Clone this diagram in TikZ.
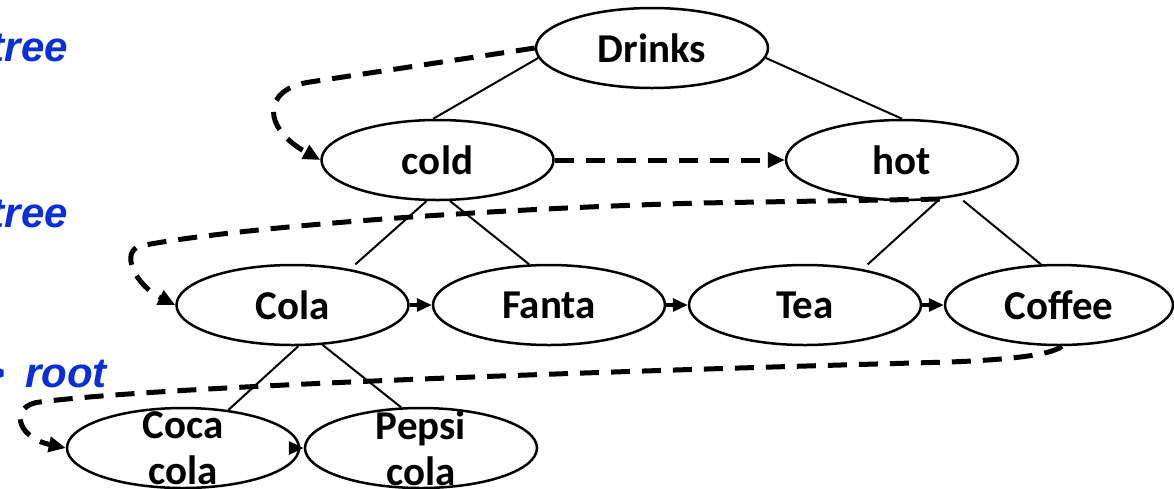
\documentclass[tikz,border=0pt]{standalone}
\usepackage{fontspec}
\setmainfont{Carlito}
\newfontfamily\notefont{Liberation Sans}
\usetikzlibrary{arrows.meta,shapes.geometric}
\definecolor{noteblue}{RGB}{8,48,214}

\begin{document}
\begin{tikzpicture}[x=1pt,y=-1pt,
  treenode/.style={ellipse, draw, line width=2.5pt, minimum width=232pt,
    minimum height=80pt, inner sep=0pt, align=center,
    font=\fontsize{41}{46}\selectfont\bfseries},
  twoline/.style={inner ysep=-14pt},
  link/.style={line width=2pt},
  travel/.style={line width=5pt, dash pattern=on 19pt off 12pt,
    -{Triangle[length=17pt,width=15pt]}},
  sibling/.style={line width=3.4pt, -{Triangle[length=15pt,width=13pt]}},
  note/.style={font=\notefont\fontsize{42}{48}\selectfont\bfseries\itshape,
    text=noteblue, anchor=base east, inner sep=0pt}
]
\useasboundingbox (0,0) rectangle (1174,488);

% side notes (run off the left edge)
\node[note] (n1) at (68,61) {tree};
\node[note] (n2) at (68,227) {tree};
\node[note] (n3) at (107,387) {>\kern20pt root};

% tree nodes
\node[treenode] (drinks) at (652,48) {Drinks};
\node[treenode] (cold) at (437.5,160) {cold};
\node[treenode] (hot) at (902,160) {hot};
\node[treenode] (cola) at (292.5,305) {Cola};
\node[treenode] (fanta) at (549,305) {Fanta};
\node[treenode] (tea) at (805,305) {Tea};
\node[treenode, minimum width=228pt] (coffee) at (1059,305) {Coffee};
\node[treenode, twoline] (coca) at (183,448) {Coca\\cola};
\node[treenode, twoline] (pepsi) at (421,448) {Pepsi\\cola};

% tree edges
\draw[link] (drinks.185) -- (cold.96);
\draw[link] (drinks.355) -- (hot.90);
\draw[link, shorten >=7pt] (cold.255) -- (cola.32);
\draw[link] (cold.287) -- (fanta.116);
\draw[link, shorten >=7pt] (hot.314) -- (tea.32);
\draw[link, shorten <=7pt] (hot.327) -- (coffee.114);
\draw[link] (cola.278) -- (coca.40);
\draw[link] (cola.307) -- (pepsi.116);

% level-order traversal
\draw[travel] (drinks.west) -- (310,82)
  .. controls (262,89) and (262,128) .. (cold.west);
\draw[travel] (cold.east) -- (hot.west);
\draw[travel] (hot.314) -- (700,203)
  .. controls (450,210) and (220,230) .. (140,246)
  .. controls (120,252) and (135,285) .. (cola.west);
\draw[travel] (coffee.274) .. controls (1050,356) and (1000,360) .. (950,362)
  .. controls (500,374) and (150,388) .. (40,402)
  .. controls (10,405) and (15,437) .. (coca.west);

% siblings in order
\draw[sibling] (cola.east) -- (fanta.west);
\draw[sibling] (fanta.east) -- (tea.west);
\draw[sibling] (tea.east) -- (coffee.west);
\draw[sibling] (coca.east) -- (pepsi.west);
\end{tikzpicture}
\end{document}
